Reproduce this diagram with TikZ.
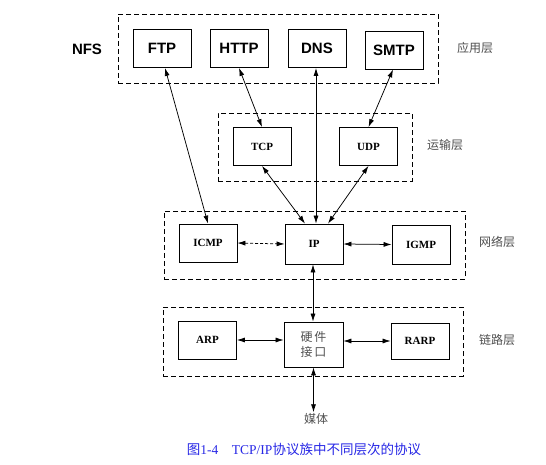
\documentclass[tikz,border=0pt]{standalone}
\usepackage{fontspec}
\setmainfont{Liberation Serif}
\setsansfont{Liberation Sans}
\newfontfamily\cjk{Noto Sans CJK SC}
\usetikzlibrary{arrows.meta}
\definecolor{capblue}{RGB}{40,40,230}
\definecolor{lblgray}{RGB}{80,80,80}
\tikzset{
  appbox/.style={draw, line width=0.9pt, minimum width=58pt, minimum height=38pt, inner sep=0pt, font=\sffamily\bfseries\fontsize{15}{15}\selectfont},
  protobox/.style={draw, line width=0.8pt, minimum width=58pt, minimum height=38pt, inner sep=0pt, font=\bfseries\fontsize{11}{11}\selectfont},
  layerbox/.style={draw, dashed, line width=0.8pt, dash pattern=on 5pt off 3pt, inner sep=0pt},
  layerlbl/.style={font=\cjk\fontsize{12}{12}\selectfont, text=lblgray},
  conn/.style={line width=0.75pt, {Latex[length=8pt,width=5pt]}-{Latex[length=8pt,width=5pt]}},
}
\begin{document}
\begin{tikzpicture}[x=1pt,y=-1pt]
\useasboundingbox[fill=white] (0,0) rectangle (546,465);
% layer boxes
\node[layerbox, minimum width=320pt, minimum height=69pt] (app) at (278,48.5) {};
\node[layerbox, minimum width=194pt, minimum height=68pt] (trans) at (315,147) {};
\node[layerbox, minimum width=301pt, minimum height=68pt] (net) at (314.5,245) {};
\node[layerbox, minimum width=300pt, minimum height=69pt] (link) at (313,341.5) {};
% application
\node[appbox] (ftp) at (162,48.5) {FTP};
\node[appbox] (http) at (239,48.5) {HTTP};
\node[appbox] (dns) at (317,48.5) {DNS};
\node[appbox] (smtp) at (394,50) {SMTP};
\node[font=\sffamily\bfseries\fontsize{15}{15}\selectfont] (nfs) at (87,49) {NFS};
\node[layerlbl] (l1) at (475,48) {应用层};
% transport
\node[protobox] (tcp) at (262,146.5) {TCP};
\node[protobox] (udp) at (368.5,146.5) {UDP};
\node[layerlbl] (l2) at (445,145) {运输层};
% network
\node[protobox] (icmp) at (208,243) {ICMP};
\node[protobox, minimum height=40pt] (ip) at (314,244) {IP};
\node[protobox, minimum height=39pt] (igmp) at (421,244.5) {IGMP};
\node[layerlbl] (l3) at (497,242) {网络层};
% link
\node[protobox] (arp) at (207.5,340) {ARP};
\node[protobox, minimum width=59pt, minimum height=45pt, font=\cjk\fontsize{12}{15}\selectfont, text=lblgray, align=center] (hw) at (313.5,344.5) {硬\,件\\接\,口};
\node[protobox, minimum height=36pt] (rarp) at (420,341) {RARP};
\node[layerlbl] (l4) at (497,340) {链路层};
% media
\node[font=\cjk\fontsize{12}{12}\selectfont, text=lblgray, inner sep=1pt] (media) at (316,419) {媒体};
% caption
\node[text=capblue, font=\fontsize{13.5}{13.5}\selectfont] (cap) at (304,449) {{\cjk 图}1-4\quad TCP/IP{\cjk 协议族中不同层次的协议}};
% connectors
\coordinate (ipbot) at ([xshift=-1pt]ip.south);
\draw[conn] ([xshift=3pt]ftp.south) -- (icmp.north);
\draw[conn] (http.south) -- (tcp.north);
\draw[conn] ([xshift=-1pt]dns.south) -- ([xshift=2pt]ip.north);
\draw[conn] ([xshift=-1pt]smtp.south) -- (udp.north);
\draw[conn] (tcp.south) -- ([xshift=-9pt]ip.north);
\draw[conn] (udp.south) -- ([xshift=14pt]ip.north);
\draw[conn, dash pattern=on 3pt off 2pt] (icmp.east) -- (ip.west);
\draw[conn] (ip.east) -- (igmp.west);
\draw[conn] (ipbot) -- (ipbot |- hw.north);
\draw[conn] (arp.east) -- (arp.east -| hw.west);
\draw[conn] (rarp.west -| hw.east) -- (rarp.west);
\draw[conn] (hw.south) -- (hw.south |- media.north);
\end{tikzpicture}
\end{document}
